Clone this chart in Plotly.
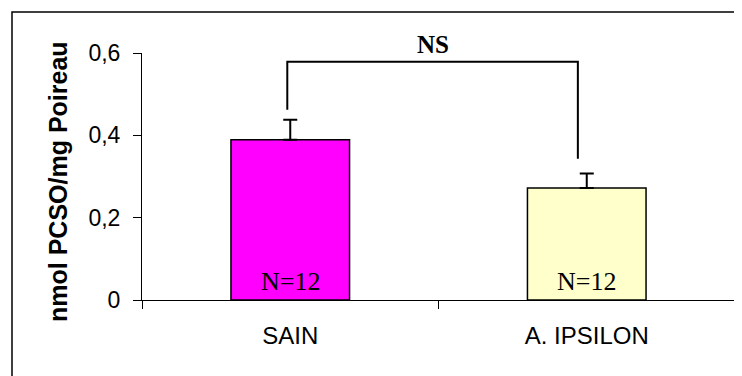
import plotly.graph_objects as go

categories = ["SAIN", "A. IPSILON"]
means = [0.389, 0.272]
errors = [0.049, 0.035]
n_labels = ["N=12", "N=12"]
bar_colors = ["#FF00FF", "#FFFFCC"]
y_ticks = [0, 0.2, 0.4, 0.6]

bracket_x = [0.49, 0.49, 1.47, 1.47]
bracket_y = [0.462, 0.579, 0.579, 0.343]
sig_label = "NS"

x_pos = [i + 0.5 for i in range(len(categories))]

fig = go.Figure()
fig.add_trace(go.Bar(
    x=x_pos, y=means, width=0.4,
    marker=dict(color=bar_colors, line=dict(color="black", width=1.5)),
    error_y=dict(type="data", array=errors, arrayminus=[0] * len(errors),
                 symmetric=False, color="black", thickness=2, width=7),
    showlegend=False, hoverinfo="skip",
))
fig.add_trace(go.Scatter(
    x=bracket_x, y=bracket_y, mode="lines",
    line=dict(color="black", width=2), showlegend=False, cliponaxis=False,
    hoverinfo="skip",
))

for xp, lab in zip(x_pos, n_labels):
    fig.add_annotation(x=xp, y=0.044, xref="x", yref="y", text=lab, showarrow=False,
                       xanchor="center", yanchor="middle",
                       font=dict(family="Times New Roman, Liberation Serif, serif", size=26, color="black"))

fig.add_annotation(x=(bracket_x[1] + bracket_x[2]) / 2, y=(300 - 44) / 247, xref="x", yref="paper",
                   text="<b>" + sig_label + "</b>", showarrow=False,
                   xanchor="center", yanchor="middle",
                   font=dict(family="Times New Roman, Liberation Serif, serif", size=25, color="black"))

# y-axis title
fig.add_annotation(x=(58 - 142) / 593, y=(300 - 181) / 247, xref="paper", yref="paper",
                   text="<b>nmol PCSO/mg Poireau</b>", textangle=-90, showarrow=False,
                   xanchor="center", yanchor="middle",
                   font=dict(family="Arial, Liberation Sans, sans-serif", size=25, color="black"))

# outer border
fig.add_shape(type="rect", xref="paper", yref="paper",
              x0=(12 - 142) / 593, x1=(760 - 142) / 593,
              y0=(300 - 390) / 247, y1=(300 - 12) / 247,
              line=dict(color="black", width=1.5), fillcolor="rgba(0,0,0,0)", layer="below")

fig.update_layout(
    width=734, height=368,
    margin=dict(l=134, r=7, t=45, b=76),
    paper_bgcolor="white", plot_bgcolor="white",
    separators=", ",
    font=dict(family="Arial, Liberation Sans, sans-serif", color="black"),
    xaxis=dict(range=[0, len(categories)], tickvals=x_pos, ticktext=categories,
               ticks="outside", ticklen=14, tickcolor="rgba(0,0,0,0)",
               tickfont=dict(size=24), showgrid=False, zeroline=False,
               showline=True, linecolor="black", linewidth=1,
               minor=dict(tickvals=list(range(len(categories) + 1)), ticks="outside",
                          ticklen=8, tickcolor="black", showgrid=False)),
    yaxis=dict(range=[0, 0.6], tickvals=y_ticks, ticks="outside", ticklen=8,
               tickcolor="black", tickfont=dict(size=23), ticklabelstandoff=8,
               showgrid=False, zeroline=False,
               showline=True, linecolor="black", linewidth=1),
)

fig.write_html("out.html")
